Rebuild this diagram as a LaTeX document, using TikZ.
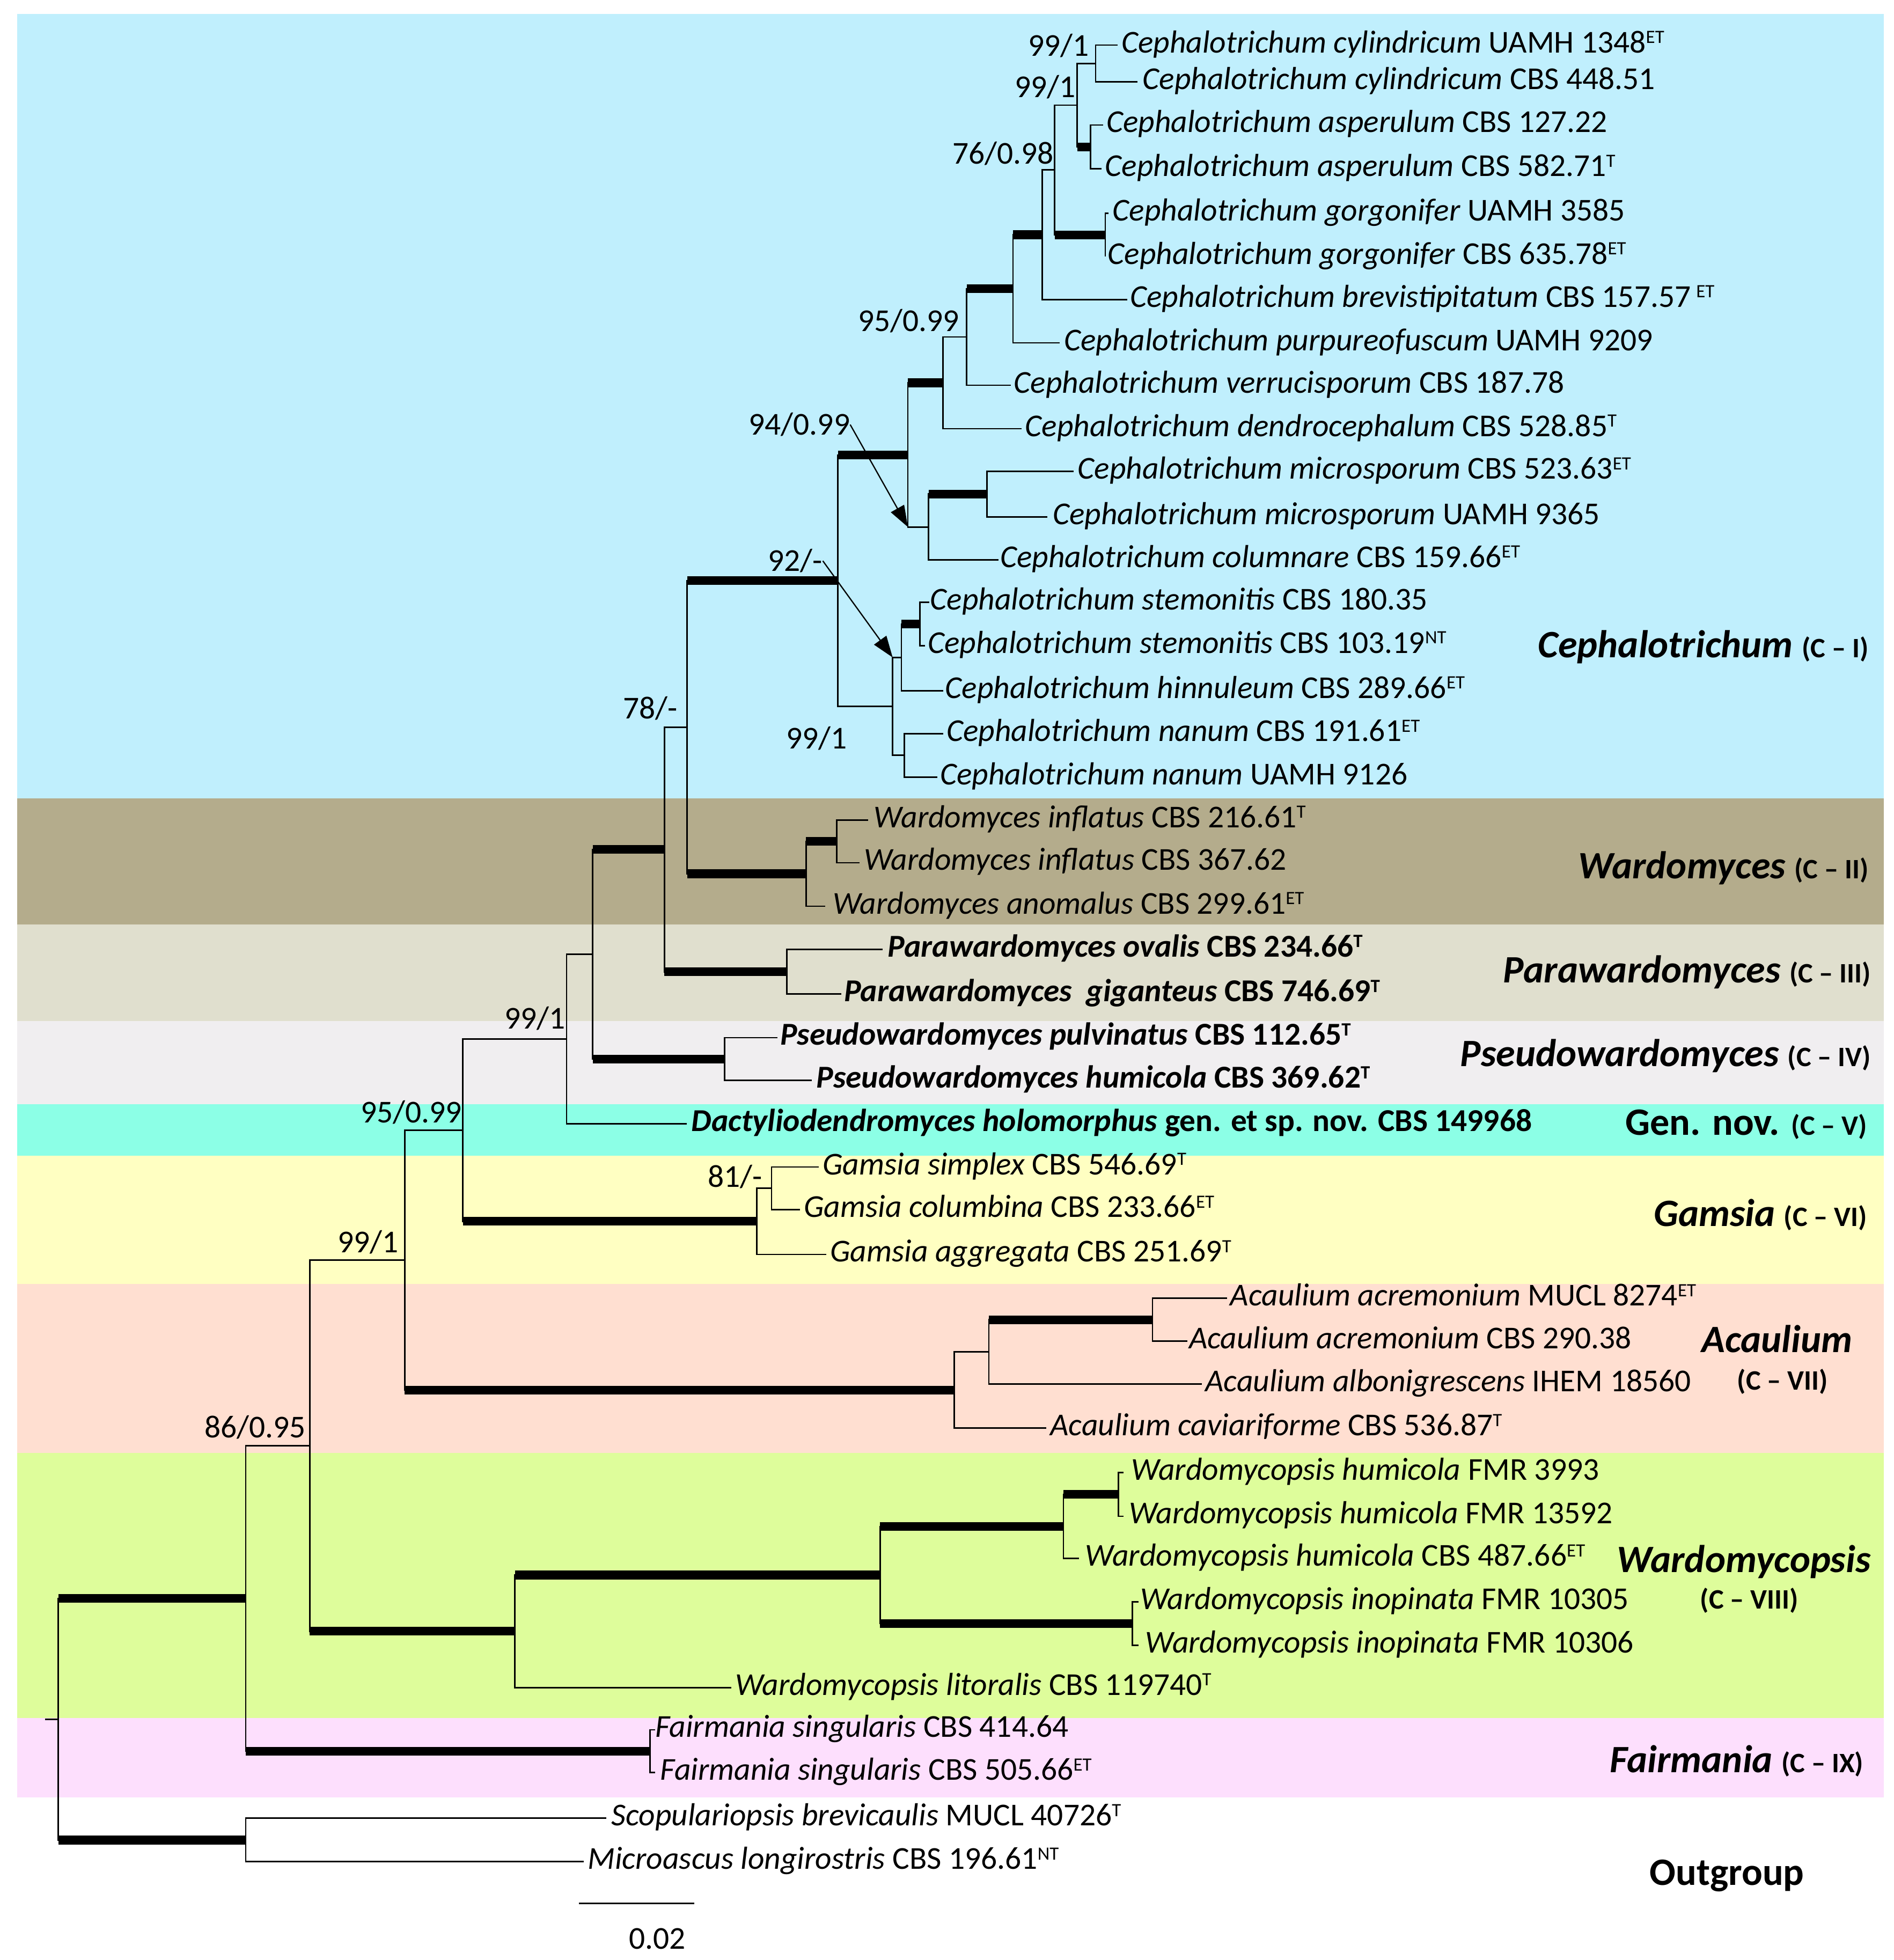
\documentclass[tikz,border=0pt]{standalone}
\usepackage{fontspec}
\setmainfont{Carlito}
\usetikzlibrary{arrows.meta}
\definecolor{cCeph}{HTML}{C0EFFD}
\definecolor{cWard}{HTML}{B4AC8C}
\definecolor{cPara}{HTML}{E0DFCE}
\definecolor{cPseu}{HTML}{F0EEF0}
\definecolor{cGenn}{HTML}{8CFFE6}
\definecolor{cGams}{HTML}{FFFFC2}
\definecolor{cAcau}{HTML}{FFDFD1}
\definecolor{cWdps}{HTML}{DEFD9B}
\definecolor{cFair}{HTML}{FDDFFD}
\newcommand{\tsup}[1]{\raisebox{7.5pt}{\fontsize{15}{15}\selectfont #1}}
\newcommand{\csub}[1]{{\fontsize{22.5}{22.5}\selectfont\bfseries\upshape #1}}
\newcommand{\leaf}[6]{\coordinate (t#1) at (#2,#4);
  \node[#5] (L#1) at (#3,{#4+6}) {#6};}
\newcommand{\brthin}[2]{\draw[br] (#1) |- (#2);}
\newcommand{\brthick}[2]{\draw[br] (#1) |- (#2); \draw[tb] (#1 |- #2) -- (#2);}
\begin{document}
\begin{tikzpicture}[x=1pt,y=-1pt,
  br/.style={line width=1.2pt},
  tb/.style={line width=7pt},
  taxon/.style={anchor=base west,inner sep=0pt,font=\fontsize{25.5}{26}\selectfont},
  btaxon/.style={taxon,font=\fontsize{25.5}{26}\selectfont\bfseries},
  bs/.style={anchor=base,inner sep=0pt,font=\fontsize{25.5}{26}\selectfont},
  clade/.style={anchor=base east,inner sep=0pt,font=\fontsize{31}{32}\selectfont\bfseries},
  cladec/.style={anchor=base,inner sep=0pt,font=\fontsize{31}{32}\selectfont\bfseries},
  arr/.style={line width=1pt,-{Triangle[length=17pt,width=12pt]}}]

\fill[white] (0,0) rectangle (1515,1568);
\useasboundingbox (0,0) rectangle (1515,1568);

% background bands
\fill[cCeph] (13.6,11) rectangle (1507,638.8);
\fill[cWard] (13.6,638.8) rectangle (1507,739.4);
\fill[cPara] (13.6,739.4) rectangle (1507,817);
\fill[cPseu] (13.6,817) rectangle (1507,883.4);
\fill[cGenn] (13.6,883.4) rectangle (1507,924.7);
\fill[cGams] (13.6,924.7) rectangle (1507,1027);
\fill[cAcau] (13.6,1027) rectangle (1507,1162.5);
\fill[cWdps] (13.6,1162.5) rectangle (1507,1374.5);
\fill[cFair] (13.6,1374.5) rectangle (1507,1437.8);

% leaves
\leaf{1}{894}{897}{36.1}{taxon}{\textit{Cephalotrichum cylindricum} UAMH 1348\tsup{ET}}
\leaf{2}{910}{914}{65.3}{taxon}{\textit{Cephalotrichum cylindricum} CBS 448.51}
\leaf{3}{882.7}{885}{100}{taxon}{\textit{Cephalotrichum asperulum} CBS 127.22}
\leaf{4}{881}{884}{135}{taxon}{\textit{Cephalotrichum asperulum} CBS 582.71\tsup{T}}
\leaf{5}{887}{890}{170.5}{taxon}{\textit{Cephalotrichum gorgonifer} UAMH 3585}
\leaf{6}{884.2}{886}{205.3}{taxon}{\textit{Cephalotrichum gorgonifer} CBS 635.78\tsup{ET}}
\leaf{7}{901.8}{904}{239.6}{taxon}{\textit{Cephalotrichum brevistipitatum} CBS 157.57\,\tsup{ET}}
\leaf{8}{847.9}{851}{274.3}{taxon}{\textit{Cephalotrichum purpureofuscum} UAMH 9209}
\leaf{9}{808.5}{811}{308.2}{taxon}{\textit{Cephalotrichum verrucisporum} CBS 187.78}
\leaf{10}{817.2}{820}{343}{taxon}{\textit{Cephalotrichum dendrocephalum} CBS 528.85\tsup{T}}
\leaf{11}{858.8}{862}{377.1}{taxon}{\textit{Cephalotrichum microsporum} CBS 523.63\tsup{ET}}
\leaf{12}{838}{842}{413.4}{taxon}{\textit{Cephalotrichum microsporum} UAMH 9365}
\leaf{13}{798.6}{800}{447.9}{taxon}{\textit{Cephalotrichum columnare} CBS 159.66\tsup{ET}}
\leaf{14}{743.6}{744}{481.9}{taxon}{\textit{Cephalotrichum stemonitis} CBS 180.35}
\leaf{15}{740}{742}{516.5}{taxon}{\textit{Cephalotrichum stemonitis} CBS 103.19\tsup{NT}}
\leaf{16}{754.6}{756}{552.6}{taxon}{\textit{Cephalotrichum hinnuleum} CBS 289.66\tsup{ET}}
\leaf{17}{754.6}{757}{587}{taxon}{\textit{Cephalotrichum nanum} CBS 191.61\tsup{ET}}
\leaf{18}{749.8}{752}{621.6}{taxon}{\textit{Cephalotrichum nanum} UAMH 9126}
\leaf{19}{694.6}{699}{656}{taxon}{\textit{Wardomyces inflatus} CBS 216.61\tsup{T}}
\leaf{20}{687.6}{691}{690.2}{taxon}{\textit{Wardomyces inflatus} CBS 367.62}
\leaf{21}{660.2}{666}{725}{taxon}{\textit{Wardomyces anomalus} CBS 299.61\tsup{ET}}
\leaf{22}{706.2}{710}{759.5}{btaxon}{\textit{Parawardomyces ovalis} CBS 234.66\tsup{T}}
\leaf{23}{672.9}{675}{795.3}{btaxon}{\textit{Parawardomyces\ \ giganteus} CBS 746.69\tsup{T}}
\leaf{24}{621.9}{624}{830.1}{btaxon}{\textit{Pseudowardomyces pulvinatus} CBS 112.65\tsup{T}}
\leaf{25}{649.3}{653}{864.3}{btaxon}{\textit{Pseudowardomyces humicola} CBS 369.62\tsup{T}}
\leaf{26}{549.5}{553}{898.9}{btaxon}{\textit{Dactyliodendromyces holomorphus} gen. et sp. nov. CBS 149968}
\leaf{27}{655}{658}{933.6}{taxon}{\textit{Gamsia simplex} CBS 546.69\tsup{T}}
\leaf{28}{640}{643}{967.7}{taxon}{\textit{Gamsia columbina} CBS 233.66\tsup{ET}}
\leaf{29}{661}{664}{1003.5}{taxon}{\textit{Gamsia aggregata} CBS 251.69\tsup{T}}
\leaf{30}{981.8}{984}{1038.6}{taxon}{\textit{Acaulium acremonium} MUCL 8274\tsup{ET}}
\leaf{31}{950.1}{951}{1073}{taxon}{\textit{Acaulium acremonium} CBS 290.38}
\leaf{32}{961.6}{964}{1107.3}{taxon}{\textit{Acaulium albonigrescens} IHEM 18560}
\leaf{33}{837.1}{840}{1142.4}{taxon}{\textit{Acaulium caviariforme} CBS 536.87\tsup{T}}
\leaf{34}{899}{905}{1177.9}{taxon}{\textit{Wardomycopsis humicola} FMR 3993}
\leaf{35}{899}{903}{1213}{taxon}{\textit{Wardomycopsis humicola} FMR 13592}
\leaf{36}{863}{868}{1246.8}{taxon}{\textit{Wardomycopsis humicola} CBS 487.66\tsup{ET}}
\leaf{37}{911}{912}{1281.5}{taxon}{\textit{Wardomycopsis inopinata} FMR 10305}
\leaf{38}{911}{916}{1316.2}{taxon}{\textit{Wardomycopsis inopinata} FMR 10306}
\leaf{39}{585.1}{588}{1350}{taxon}{\textit{Wardomycopsis litoralis} CBS 119740\tsup{T}}
\leaf{40}{524}{524}{1383.8}{taxon}{\textit{Fairmania singularis} CBS 414.64}
\leaf{41}{524}{528}{1418}{taxon}{\textit{Fairmania singularis} CBS 505.66\tsup{ET}}
\leaf{42}{485}{489}{1454.6}{taxon}{\textit{Scopulariopsis brevicaulis} MUCL 40726\tsup{T}}
\leaf{43}{467}{470}{1489.3}{taxon}{\textit{Microascus longirostris} CBS 196.61\tsup{NT}}

% internal nodes
\coordinate (nCyl) at (876.5,50.7);
\coordinate (nAsp) at (872.5,117.5);
\coordinate (nCA) at (861.7,84.1);
\coordinate (nGorg) at (884.2,187.9);
\coordinate (n76) at (843.7,136);
\coordinate (nBrev) at (833.9,187.8);
\coordinate (n8) at (810.4,231);
\coordinate (n9) at (773.4,269.6);
\coordinate (n10) at (754.4,306.3);
\coordinate (nMic) at (789.4,395.25);
\coordinate (nMC) at (742.8,421.6);
\coordinate (n94) at (726.3,364);
\coordinate (nStem) at (736,499.2);
\coordinate (nSH) at (721.1,525.9);
\coordinate (nNan) at (723.5,604.3);
\coordinate (n99a) at (714.1,565.1);
\coordinate (n92) at (670.3,464.5);
\coordinate (nInf) at (669.4,673.1);
\coordinate (nWard) at (644.9,699);
\coordinate (n78) at (549.8,581.8);
\coordinate (nPara) at (629.5,777.4);
\coordinate (nWP) at (531.5,679.6);
\coordinate (nPseudo) at (579.8,847.2);
\coordinate (nWPP) at (474.1,763.4);
\coordinate (n99b) at (453.3,831.2);
\coordinate (nGam2) at (617.2,950.6);
\coordinate (nGam) at (605.4,977);
\coordinate (n95b) at (370.3,904.1);
\coordinate (nAcr) at (922,1055.8);
\coordinate (nAc2) at (791.1,1081.5);
\coordinate (nAc) at (763.3,1112);
\coordinate (n99c) at (323.7,1008);
\coordinate (nFMR) at (894.8,1195.5);
\coordinate (nHum) at (850.7,1221.2);
\coordinate (nIno) at (905.9,1298.8);
\coordinate (nWp2) at (704,1260);
\coordinate (nWp) at (411.9,1305);
\coordinate (n86) at (247.8,1156.5);
\coordinate (nFair) at (520,1401);
\coordinate (nIn) at (196.6,1278.8);
\coordinate (nOut) at (196.6,1472);
\coordinate (root) at (46.7,1375.4);
\coordinate (rstub) at (36.1,1375.4);

% branches
\brthin{nCyl}{t1} \brthin{nCyl}{t2}
\brthin{nAsp}{t3} \brthin{nAsp}{t4}
\brthin{nCA}{nCyl} \brthick{nCA}{nAsp}
\brthin{nGorg}{t5} \brthin{nGorg}{t6}
\brthin{n76}{nCA} \brthick{n76}{nGorg}
\brthin{nBrev}{n76} \brthin{nBrev}{t7}
\brthick{n8}{nBrev} \brthin{n8}{t8}
\brthick{n9}{n8} \brthin{n9}{t9}
\brthin{n10}{n9} \brthin{n10}{t10}
\brthin{nMic}{t11} \brthin{nMic}{t12}
\brthick{nMC}{nMic} \brthin{nMC}{t13}
\brthick{n94}{n10} \brthin{n94}{nMC}
\brthin{nStem}{t14} \brthin{nStem}{t15}
\brthick{nSH}{nStem} \brthin{nSH}{t16}
\brthin{nNan}{t17} \brthin{nNan}{t18}
\brthin{n99a}{nSH} \brthin{n99a}{nNan}
\brthick{n92}{n94} \brthin{n92}{n99a}
\brthin{nInf}{t19} \brthin{nInf}{t20}
\brthick{nWard}{nInf} \brthin{nWard}{t21}
\brthick{n78}{n92} \brthick{n78}{nWard}
\brthin{nPara}{t22} \brthin{nPara}{t23}
\brthin{nWP}{n78} \brthick{nWP}{nPara}
\brthin{nPseudo}{t24} \brthin{nPseudo}{t25}
\brthick{nWPP}{nWP} \brthick{nWPP}{nPseudo}
\brthin{n99b}{nWPP} \brthin{n99b}{t26}
\brthin{nGam2}{t27} \brthin{nGam2}{t28}
\brthin{nGam}{nGam2} \brthin{nGam}{t29}
\brthin{n95b}{n99b} \brthick{n95b}{nGam}
\brthin{nAcr}{t30} \brthin{nAcr}{t31}
\brthick{nAc2}{nAcr} \brthin{nAc2}{t32}
\brthin{nAc}{nAc2} \brthin{nAc}{t33}
\brthin{n99c}{n95b} \brthick{n99c}{nAc}
\brthin{nFMR}{t34} \brthin{nFMR}{t35}
\brthick{nHum}{nFMR} \brthin{nHum}{t36}
\brthin{nIno}{t37} \brthin{nIno}{t38}
\brthick{nWp2}{nHum} \brthick{nWp2}{nIno}
\brthick{nWp}{nWp2} \brthin{nWp}{t39}
\brthin{n86}{n99c} \brthick{n86}{nWp}
\brthin{nFair}{t40} \brthin{nFair}{t41}
\brthin{nIn}{n86} \brthick{nIn}{nFair}
\brthin{nOut}{t42} \brthin{nOut}{t43}
\brthick{root}{nIn} \brthick{root}{nOut}
\draw[br] (rstub) -- (root);

% support values
\node[bs] (s1) at (847,45) {99/1};
\node[bs] (s2) at (836,78) {99/1};
\node[bs] (s3) at (802.6,131) {76/0.98};
\node[bs] (s4) at (726.8,265) {95/0.99};
\node[bs] (s5) at (639.5,348) {94/0.99};
\node[bs] (s6) at (636.3,457) {92/-};
\node[bs] (s7) at (520.2,575) {78/-};
\node[bs] (s8) at (653.3,599) {99/1};
\node[bs] (s9) at (428,823) {99/1};
\node[bs] (s10) at (329,898) {95/0.99};
\node[bs] (s11) at (588,949.5) {81/-};
\node[bs] (s12) at (294.5,1002) {99/1};
\node[bs] (s13) at (204,1150) {86/0.95};
\draw[arr] (s5.east) -- (n94 |- nMC);
\draw[arr] (s6.east) -- (n99a |- nSH);

% clade labels
\node[clade] (c1) at (1495,526) {\itshape Cephalotrichum \csub{(C – I)}};
\node[clade] (c2) at (1495,703) {\itshape Wardomyces \csub{(C – II)}};
\node[clade] (c3) at (1497,786) {\itshape Parawardomyces \csub{(C – III)}};
\node[clade] (c4) at (1497,853) {\itshape Pseudowardomyces \csub{(C – IV)}};
\node[clade] (c5) at (1494,908) {Gen. nov. \csub{(C – V)}};
\node[clade] (c6) at (1494,981) {\itshape Gamsia \csub{(C – VI)}};
\node[cladec] (c7) at (1421.5,1082) {\itshape Acaulium};
\node[anchor=base,inner sep=0pt] (c7b) at (1426,1112) {\csub{(C – VII)}};
\node[cladec] (c8) at (1395,1258) {\itshape Wardomycopsis};
\node[anchor=base,inner sep=0pt] (c8b) at (1399.5,1287) {\csub{(C – VIII)}};
\node[clade] (c9) at (1491,1418) {\itshape Fairmania \csub{(C – IX)}};
\node[cladec] (c10) at (1381.5,1508) {Outgroup};

% scale bar
\coordinate (sbL) at (463,1522.6);
\coordinate (sbR) at (555.6,1522.6);
\draw[br] (sbL) -- (sbR);
\node[bs] (sbT) at (526,1559) {0.02};
\end{tikzpicture}
\end{document}
